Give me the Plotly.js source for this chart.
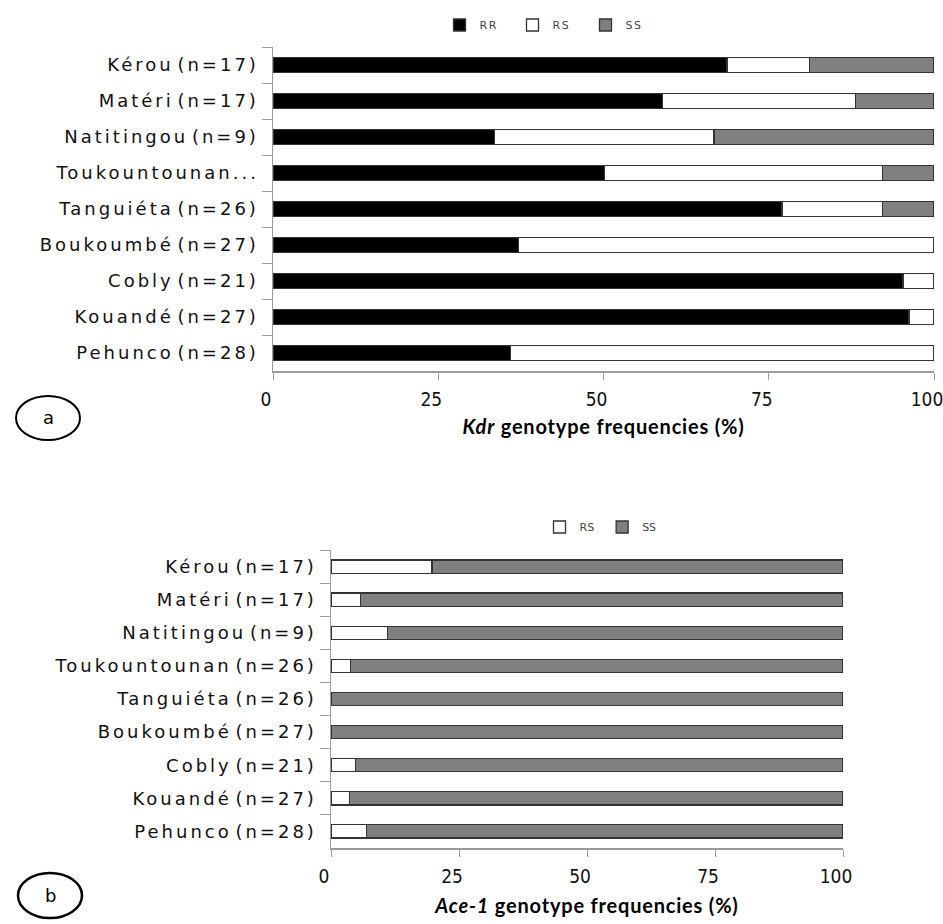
<!DOCTYPE html>
<html>
<head>
<meta charset="utf-8">
<script src="https://cdn.plot.ly/plotly-3.0.1.min.js"></script>
<style>
  html, body { margin: 0; padding: 0; background: #fff; }
  #chart { width: 943px; height: 924px; }
  .ytick text, .y2tick text { letter-spacing: 3px; word-spacing: -5px; }
  .g-xtitle text, .g-x2title text { letter-spacing: 0.8px; }
  .legendtext { letter-spacing: 1.5px; }
</style>
</head>
<body>
<div id="chart"></div>
<script>
// ---- Data (percent) ----
const categoriesA = ['Kérou (n=17)', 'Matéri (n=17)', 'Natitingou (n=9)', 'Toukountounan...', 'Tanguiéta (n=26)', 'Boukoumbé (n=27)', 'Cobly (n=21)', 'Kouandé (n=27)', 'Pehunco (n=28)'];
const categoriesB = ['Kérou (n=17)', 'Matéri (n=17)', 'Natitingou (n=9)', 'Toukountounan (n=26)', 'Tanguiéta (n=26)', 'Boukoumbé (n=27)', 'Cobly (n=21)', 'Kouandé (n=27)', 'Pehunco (n=28)'];

const kdrRR = [68.7, 58.9, 33.5, 50.1, 77.0, 37.1, 95.3, 96.2, 35.9];
const kdrRS = [12.5, 29.2, 33.2, 42.1, 15.2, 62.9, 4.7, 3.8, 64.1];
const kdrSS = [18.8, 11.9, 33.3, 7.8, 7.8, 0, 0, 0, 0];

const aceRS = [19.7, 5.7, 11.1, 3.8, 0, 0, 4.8, 3.6, 6.9];
const aceSS = [80.3, 94.3, 88.9, 96.2, 100, 100, 95.2, 96.4, 93.1];

const xTicks = [0, 25, 50, 75, 100];

// ---- Styles ----
const W = 943, H = 924;
const colRR = '#000000', colRS = '#ffffff', colSS = '#808080';
const edge = { color: '#333333', width: 1.3 };
const narrow = 'Liberation Sans Narrow, Arial Narrow, DejaVu Sans Condensed, sans-serif';
const catFont = { family: 'DejaVu Sans, Verdana, sans-serif', size: 18, color: '#111' };
const numFont = { family: narrow, size: 19, color: '#111' };
const titleFont = { family: 'Lato, Liberation Sans, sans-serif', size: 20, color: '#000' };
const legFont = { family: 'DejaVu Sans, sans-serif', size: 11, color: '#444' };

function bar(name, x, y, color, xa, ya, leg) {
  return {
    type: 'bar', orientation: 'h', name: name, x: x, y: y,
    xaxis: xa, yaxis: ya, legend: leg,
    marker: { color: color, line: edge },
    hoverinfo: 'x+y+name'
  };
}

const traces = [
  bar('RR', kdrRR, categoriesA, colRR, 'x', 'y', 'legend'),
  bar('RS', kdrRS, categoriesA, colRS, 'x', 'y', 'legend'),
  bar('SS', kdrSS, categoriesA, colSS, 'x', 'y', 'legend'),
  bar('RS', aceRS, categoriesB, colRS, 'x2', 'y2', 'legend2'),
  bar('SS', aceSS, categoriesB, colSS, 'x2', 'y2', 'legend2')
];

function px(x) { return x / W; }
function py(y) { return 1 - y / H; }

const xCommon = {
  range: [0, 100], tickmode: 'array', tickvals: xTicks, ticktext: xTicks.map(String),
  ticks: 'outside', ticklen: 7, tickcolor: '#9a9a9a', tickwidth: 1,
  showline: true, linecolor: '#9a9a9a', linewidth: 1.5,
  showgrid: false, zeroline: false, fixedrange: true,
  tickfont: numFont, automargin: false,
  ticklabelshift: -7, ticklabeloverflow: 'allow', ticklabelstandoff: 4
};
const yCommon = {
  type: 'category', autorange: 'reversed',
  ticks: 'outside', tickson: 'boundaries', ticklen: 10, tickcolor: '#9a9a9a', tickwidth: 1,
  showline: true, linecolor: '#9a9a9a', linewidth: 1.5,
  showgrid: false, zeroline: false, fixedrange: true,
  tickfont: catFont, automargin: false, ticklabelstandoff: 9
};

const layout = {
  width: W, height: H,
  margin: { l: 0, r: 0, t: 0, b: 0 },
  paper_bgcolor: '#ffffff', plot_bgcolor: '#ffffff',
  barmode: 'stack', bargap: 0.6,
  showlegend: true,
  xaxis: Object.assign({}, xCommon, {
    domain: [px(273), px(934)], anchor: 'y',
    title: { text: '<b><i>Kdr</i> genotype frequencies (%)</b>', font: titleFont, standoff: 10 }
  }),
  yaxis: Object.assign({}, yCommon, {
    domain: [py(371), py(47)], anchor: 'x',
    categoryorder: 'array', categoryarray: categoriesA
  }),
  xaxis2: Object.assign({}, xCommon, {
    domain: [px(331), px(843)], anchor: 'y2',
    title: { text: '<b><i>Ace-1</i> genotype frequencies (%)</b>', font: titleFont, standoff: 12 }
  }),
  yaxis2: Object.assign({}, yCommon, {
    domain: [py(848), py(550)], anchor: 'x2',
    categoryorder: 'array', categoryarray: categoriesB
  }),
  legend: {
    orientation: 'h', x: px(549), xanchor: 'center', y: py(25), yanchor: 'middle',
    font: legFont, itemwidth: 30, entrywidth: 28, entrywidthmode: 'pixels',
    traceorder: 'normal', bgcolor: 'rgba(0,0,0,0)'
  },
  legend2: {
    orientation: 'h', x: px(602), xanchor: 'center', y: py(527), yanchor: 'middle',
    font: legFont, itemwidth: 30,
    traceorder: 'normal', bgcolor: 'rgba(0,0,0,0)'
  },
  shapes: [
    { type: 'circle', xref: 'paper', yref: 'paper', x0: px(16), x1: px(80), y0: py(440), y1: py(396),
      line: { color: '#000', width: 2 } },
    { type: 'circle', xref: 'paper', yref: 'paper', x0: px(18), x1: px(82), y0: py(918), y1: py(873),
      line: { color: '#000', width: 2.5 } }
  ],
  annotations: [
    { text: 'a', xref: 'paper', yref: 'paper', x: px(48), y: py(418), xanchor: 'center', yanchor: 'middle',
      showarrow: false, font: { family: 'DejaVu Sans, sans-serif', size: 18, color: '#000' } },
    { text: 'b', xref: 'paper', yref: 'paper', x: px(50), y: py(895), xanchor: 'center', yanchor: 'middle',
      showarrow: false, font: { family: 'DejaVu Sans, sans-serif', size: 18, color: '#000' } }
  ]
};

Plotly.newPlot('chart', traces, layout, { displayModeBar: false, staticPlot: true });
</script>
</body>
</html>
